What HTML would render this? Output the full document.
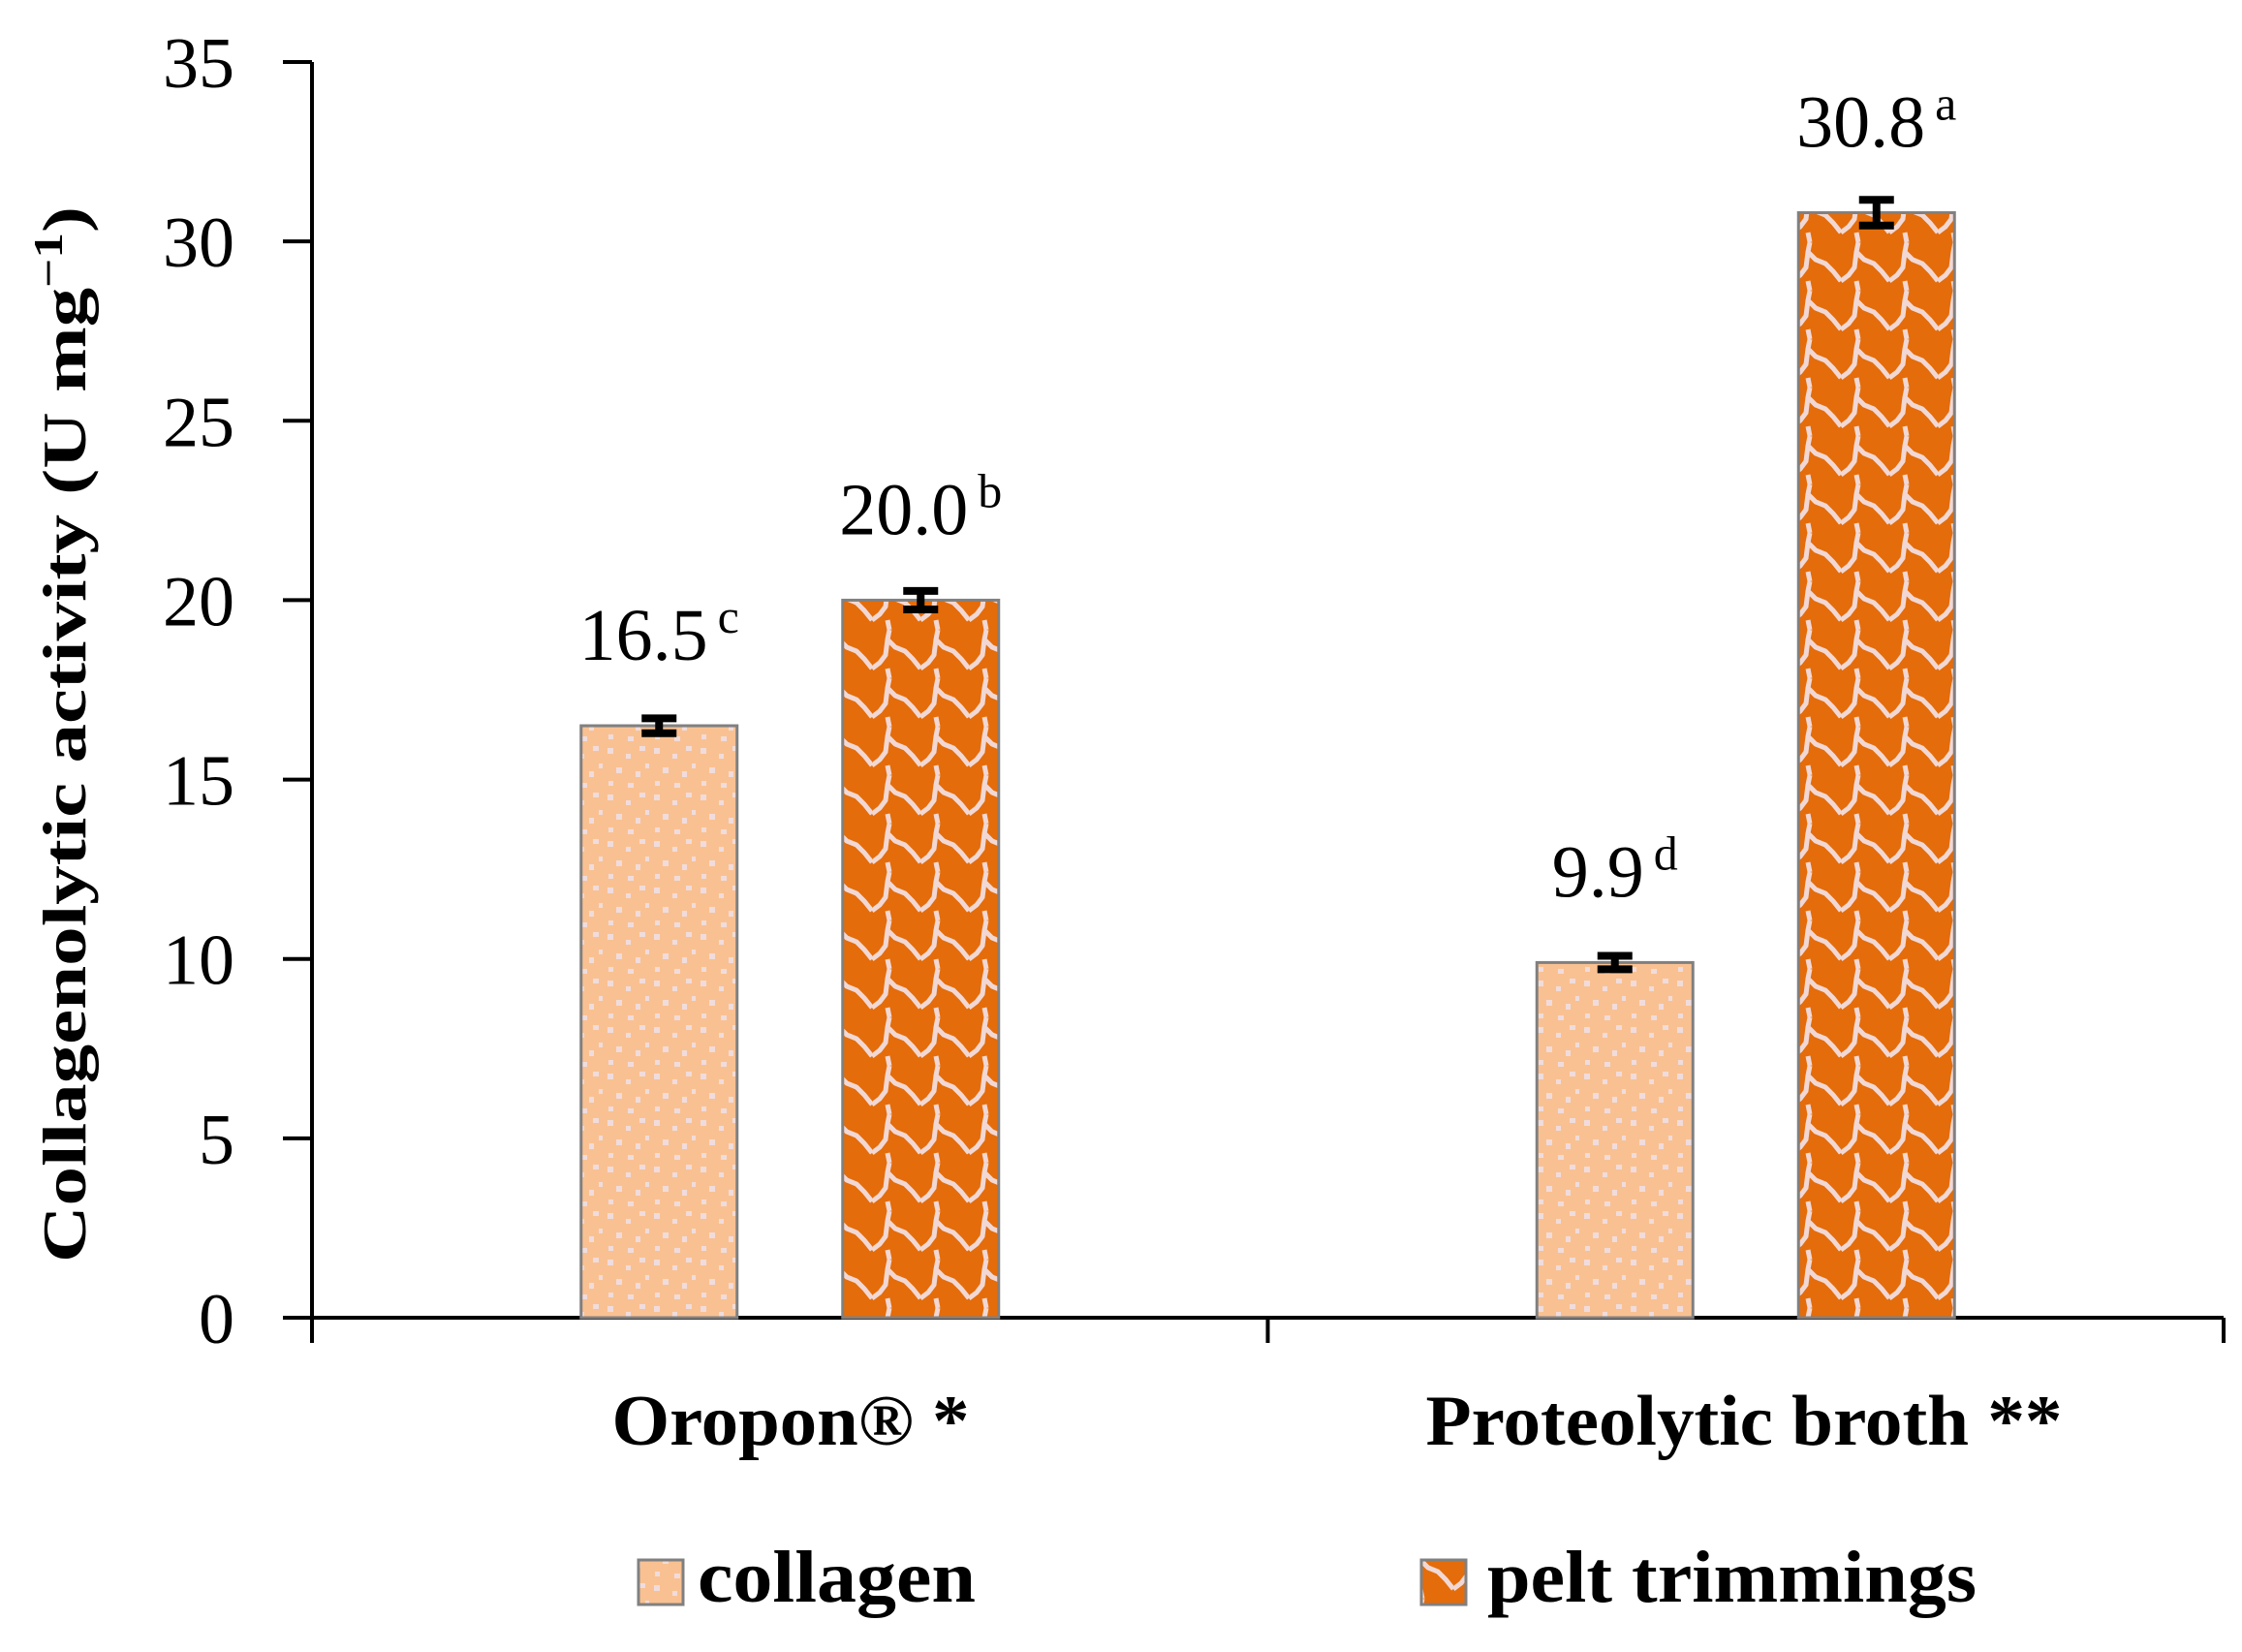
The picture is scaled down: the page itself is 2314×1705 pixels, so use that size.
<!DOCTYPE html>
<html><head><meta charset="utf-8"><style>
html,body{margin:0;padding:0;background:#fff;}
svg{display:block;}
text{font-family:"Liberation Serif",serif;fill:#000;}
</style></head><body>
<svg id="chart" width="2314" height="1705" viewBox="0 0 2314 1705" xmlns="http://www.w3.org/2000/svg">
<defs>
<pattern id="dots" patternUnits="userSpaceOnUse" width="48" height="48">
<rect width="48" height="48" fill="#F9C192"/>
<rect x="3" y="4" width="6" height="6" fill="#F0DCDC"/>
<rect x="22" y="10" width="5" height="5" fill="#F0DCDC"/>
<rect x="36" y="2" width="6" height="5" fill="#F0DCDC"/>
<rect x="12" y="24" width="6" height="6" fill="#F0DCDC"/>
<rect x="32" y="28" width="5" height="6" fill="#F0DCDC"/>
<rect x="4" y="38" width="5" height="5" fill="#F0DCDC"/>
<rect x="24" y="40" width="6" height="5" fill="#F0DCDC"/>
<rect x="42" y="20" width="4" height="5" fill="#F0DCDC"/>
</pattern>
<pattern id="scales" patternUnits="userSpaceOnUse" width="50" height="50">
<rect width="50" height="50" fill="#E46C0A"/>
<path d="M0 40 L8 34 L14 26 L16 10 L18 0 M16 10 L24 18 L34 22 L42 30 L50 40 M18 50 L16 40" stroke="#F2D8D4" stroke-width="5" fill="none"/>
</pattern>
</defs>
<g id="axes"></g>
<g id="bars"></g>
<g id="labels"></g>
<text transform="translate(88,758) rotate(-90)" text-anchor="middle" font-size="64" font-weight="bold" textLength="1090" lengthAdjust="spacingAndGlyphs">Collagenolytic activity (U mg<tspan font-size="42" dy="-24">−1</tspan><tspan dy="24">)</tspan></text>
<text x="816" y="1491" text-anchor="middle" font-size="74" font-weight="bold" textLength="369" lengthAdjust="spacingAndGlyphs">Oropon® *</text>
<text x="1800" y="1491" text-anchor="middle" font-size="74" font-weight="bold" textLength="657" lengthAdjust="spacingAndGlyphs">Proteolytic broth **</text>
<g>
<rect x="659" y="1610" width="46" height="46" fill="url(#dots)" stroke="#808080" stroke-width="3"/>
<text x="720" y="1653" font-size="76" font-weight="bold" textLength="287" lengthAdjust="spacingAndGlyphs">collagen</text>
<rect x="1467" y="1610" width="46" height="46" fill="url(#scales)" stroke="#808080" stroke-width="3"/>
<text x="1535" y="1653" font-size="76" font-weight="bold" textLength="505" lengthAdjust="spacingAndGlyphs">pelt trimmings</text>
</g>
</svg>
<script>
const categories = ["Oropon® *", "Proteolytic broth **"];
const collagenValues = [16.5, 9.9];
const peltValues = [20.0, 30.8];
const collagenErrors = [0.1, 0.08];
const peltErrors = [0.15, 0.25];
const collagenLetters = ["c", "d"];
const peltLetters = ["b", "a"];
const yTicks = [0, 5, 10, 15, 20, 25, 30, 35];

const NS = "http://www.w3.org/2000/svg";
const X0 = 322, X1 = 2295, Y0 = 1360, YTOP = 64, YMAX = 35;
function yScale(v){ return Y0 - (Y0 - YTOP) * v / YMAX; }
const bandW = (X1 - X0) / categories.length;
function xCenter(i){ return X0 + bandW * (i + 0.5); }
function mk(tag, attrs, parent){
  const e = document.createElementNS(NS, tag);
  for (const k in attrs) e.setAttribute(k, attrs[k]);
  parent.appendChild(e);
  return e;
}
const axes = document.getElementById('axes');
const barsG = document.getElementById('bars');
const labelsG = document.getElementById('labels');

let yl = mk('line', {x1:X0, y1:YTOP, x2:X0, y2:Y0, stroke:'#000', 'stroke-width':4}, axes);


let xl = mk('line', {x1:X0-30, y1:Y0, x2:X1, y2:Y0, stroke:'#000', 'stroke-width':4}, axes);


yTicks.forEach(t => {
  const y = yScale(t);
  const tk = mk('line', {x1:X0-30, y1:y, x2:X0, y2:y, stroke:'#000', 'stroke-width':4}, axes);
  
  
  const tl = mk('text', {x:242, y:y+26, 'text-anchor':'end', 'font-size':74}, axes);
  tl.textContent = t;
  
  
});
for (let i = 0; i <= categories.length; i++) {
  const x = X0 + bandW * i;
  const tk = mk('line', {x1:x, y1:Y0, x2:x, y2:Y0+26, stroke:'#000', 'stroke-width':4}, axes);
  
  
}
const BW = 161, OFF = 135;
function drawBar(cx, v, err, letter, fill, name){
  const top = yScale(v);
  const r = mk('rect', {x:cx-BW/2, y:top, width:BW, height:Y0-top, fill:fill, stroke:'#808080', 'stroke-width':3}, barsG);
  
  
  const e1 = yScale(v+err), e2 = yScale(v-err);
  const eb = mk('path', {d:`M${cx-18} ${e1-4}H${cx+18}M${cx} ${e1}V${e2}M${cx-18} ${e2+4}H${cx+18}`, stroke:'#000', 'stroke-width':8, fill:'none'}, barsG);
  
  
  const t = mk('text', {x:cx, y:top-68, 'text-anchor':'middle', 'font-size':76}, labelsG);
  
  
  t.appendChild(document.createTextNode(v.toFixed(1)));
  const s = document.createElementNS(NS, 'tspan');
  s.setAttribute('font-size', '50');
  s.setAttribute('dy', '-28');
  s.setAttribute('dx', '10');
  s.textContent = letter;
  t.appendChild(s);
}
categories.forEach((c, i) => {
  const cx = xCenter(i);
  drawBar(cx - OFF, collagenValues[i], collagenErrors[i], collagenLetters[i], 'url(#dots)', 'bar-collagen-' + i);
  drawBar(cx + OFF, peltValues[i], peltErrors[i], peltLetters[i], 'url(#scales)', 'bar-pelt-trimmings-' + i);
});
</script>
</body></html>
